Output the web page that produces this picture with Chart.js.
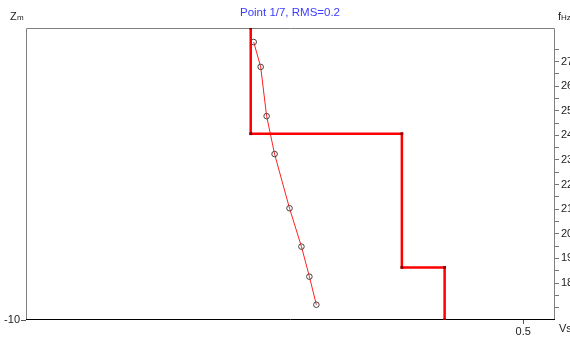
<!DOCTYPE html>
<html><head><meta charset="utf-8">
<script src="https://cdn.jsdelivr.net/npm/chart.js@4"></script>
<style>html,body{margin:0;padding:0;background:#fff}#wrap{width:570px;height:339px}</style>
</head><body><div id="wrap"><canvas id="c"></canvas></div>
<script>
const titleText = "Point 1/7, RMS=0.2";
const layerVs = [0.226, 0.378, 0.421];
const layerBottom = [-3.62, -8.2, -10];
const curveVs = [0.229, 0.236, 0.242, 0.250, 0.265, 0.277, 0.285, 0.292];
const curveFreq = [27.79, 26.78, 24.78, 23.24, 21.04, 19.48, 18.26, 17.12];
const xTicks = [0.5];
const depthTicks = [-10];
const freqTicks = [17, 17.5, 18, 18.5, 19, 19.5, 20, 20.5, 21, 21.5, 22, 22.5, 23, 23.5, 24, 24.5, 25, 25.5, 26, 26.5, 27, 27.5];
const freqLabels = [18, 19, 20, 21, 22, 23, 24, 25, 26, 27];

const profile = [];
let layerTop = 0;
layerVs.forEach((v, i) => {
  profile.push({x: v, y: layerTop});
  profile.push({x: v, y: layerBottom[i]});
  layerTop = layerBottom[i];
});
const curve = curveVs.map((v, i) => ({x: v, y: curveFreq[i]}));

const FONT = {family: "'Liberation Sans', Arial, sans-serif", size: 11};

const deco = {
  id: 'deco',
  beforeDatasetsDraw(chart) {
    const {ctx, chartArea: a} = chart;
    ctx.save();
    ctx.lineWidth = 1;
    ctx.strokeStyle = '#808080';
    ctx.beginPath();
    ctx.moveTo(a.left + 0.5, a.bottom);
    ctx.lineTo(a.left + 0.5, a.top + 0.5);
    ctx.lineTo(a.right - 0.5, a.top + 0.5);
    ctx.lineTo(a.right - 0.5, a.bottom);
    ctx.stroke();
    ctx.strokeStyle = '#000';
    ctx.beginPath();
    ctx.moveTo(a.left, a.bottom - 0.5);
    ctx.lineTo(a.right, a.bottom - 0.5);
    ctx.stroke();
    ctx.restore();
  },
  afterDraw(chart) {
    const {ctx, chartArea: a} = chart;
    ctx.save();
    ctx.textBaseline = 'middle';
    ctx.font = "11.5px 'Liberation Sans', Arial, sans-serif";
    ctx.fillStyle = '#3b3bff';
    ctx.textAlign = 'center';
    ctx.fillText(titleText, 290, 13);
    ctx.fillStyle = '#222';
    ctx.textAlign = 'left';
    ctx.font = "11px 'Liberation Sans', Arial, sans-serif";
    ctx.fillText('Z', 10, 17);
    ctx.font = "8px 'Liberation Sans', Arial, sans-serif";
    ctx.fillText('m', 17, 18);
    ctx.font = "11px 'Liberation Sans', Arial, sans-serif";
    ctx.fillText('f', 558, 17);
    ctx.font = "8px 'Liberation Sans', Arial, sans-serif";
    ctx.fillText('Hz', 561, 18);
    ctx.font = "11px 'Liberation Sans', Arial, sans-serif";
    ctx.fillText('Vs', 559, 329);
    ctx.restore();
  }
};

new Chart(document.getElementById('c'), {
  type: 'scatter',
  data: {
    datasets: [
      {
        data: profile, yAxisID: 'y', showLine: true,
        borderColor: '#ff0000', borderWidth: 2.5,
        pointStyle: 'rect', pointRadius: 2,
        pointBackgroundColor: '#8a0000', pointBorderColor: '#8a0000', pointBorderWidth: 0
      },
      {
        data: curve, yAxisID: 'y2', showLine: true,
        borderColor: '#ff2020', borderWidth: 1,
        pointStyle: 'circle', pointRadius: 2.8,
        pointBackgroundColor: 'rgba(255,255,255,0)', pointBorderColor: '#444', pointBorderWidth: 1
      }
    ]
  },
  options: {
    responsive: true, maintainAspectRatio: false, animation: false,
    layout: {padding: {top: 28, left: 0, right: 0, bottom: 0}},
    plugins: {legend: {display: false}, title: {display: false}, tooltip: {enabled: false}},
    scales: {
      x: {
        type: 'linear', position: 'bottom', min: 0, max: 0.532,
        afterBuildTicks: s => { s.ticks = xTicks.map(v => ({value: v})); },
        afterFit: s => { s.height = 19; },
        border: {display: false},
        grid: {drawOnChartArea: false, drawTicks: true, tickLength: 4, tickColor: '#555'},
        ticks: {font: FONT, color: '#222', padding: 1, maxRotation: 0, callback: v => String(v)}
      },
      y: {
        type: 'linear', position: 'left', min: -10, max: 0,
        afterBuildTicks: s => { s.ticks = depthTicks.map(v => ({value: v})); },
        afterFit: s => { s.width = 26; },
        border: {display: false},
        grid: {drawOnChartArea: false, drawTicks: true, tickLength: 5, tickColor: '#555'},
        ticks: {font: FONT, color: '#222', padding: 1, callback: v => String(v)}
      },
      y2: {
        type: 'linear', position: 'right', min: 16.5, max: 28.36,
        afterBuildTicks: s => { s.ticks = freqTicks.map(v => ({value: v})); },
        afterFit: s => { s.width = 15; },
        border: {display: false},
        grid: {drawOnChartArea: false, drawTicks: true, tickLength: 4, tickColor: '#777'},
        ticks: {font: FONT, color: '#222', padding: 2, autoSkip: false,
          callback: v => freqLabels.includes(v) ? String(v) : ''}
      }
    }
  },
  plugins: [deco]
});
</script></body></html>
